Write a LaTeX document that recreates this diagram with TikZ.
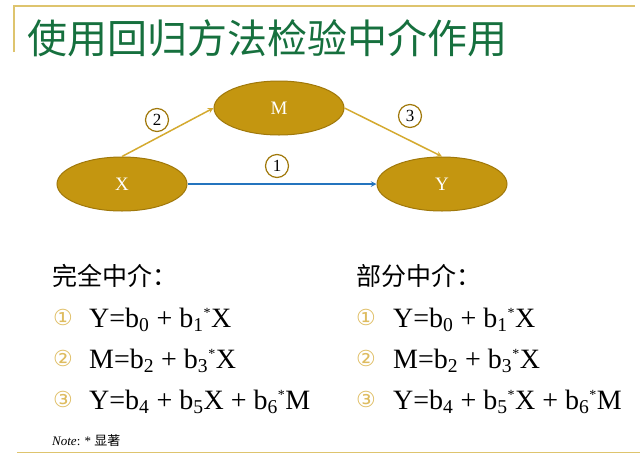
\documentclass[tikz,border=0pt]{standalone}
\usepackage{fontspec}
\setmainfont{Liberation Serif}
\newfontfamily\cjk{Noto Sans CJK SC}
\newfontfamily\symfont{DejaVu Sans}
\usetikzlibrary{shapes.geometric}
\definecolor{titlegreen}{RGB}{22,112,62}
\definecolor{ochre}{RGB}{196,150,16}
\definecolor{ochreline}{RGB}{160,120,10}
\definecolor{arrowgold}{RGB}{212,170,48}
\definecolor{rulegold}{RGB}{222,196,110}
\definecolor{pathblue}{RGB}{36,116,190}
\definecolor{numgold}{RGB}{222,188,96}
\newcommand{\eqsize}{\fontsize{28}{30}\selectfont}
\newcommand{\starsup}{\textsuperscript{\fontsize{14}{14}\selectfont *}}
\begin{document}
\begin{tikzpicture}[
    x=1pt, y=-1pt,
    varnode/.style={ellipse, minimum width=130pt, minimum height=54pt, fill=ochre, draw=ochreline, line width=1pt, text=white, font=\fontsize{19}{20}\selectfont},
    pathnum/.style={circle, minimum size=23pt, inner sep=0pt, fill=white, draw=ochreline, line width=1.2pt, font=\fontsize{17}{18}\selectfont},
    itemnum/.style={anchor=center, text=numgold, font=\symfont\fontsize{22}{24}\selectfont},
    eqline/.style={anchor=base west, inner sep=0pt, font=\eqsize},
    heading/.style={anchor=base west, inner sep=0pt, font=\cjk\fontsize{25}{28}\selectfont}
]
    \useasboundingbox (0,0) rectangle (640,453);

    % frame lines
    \draw[rulegold, line width=2pt] (14,52) -- (14,6) -- (635,6);
    \draw[rulegold, line width=1pt] (17,452) -- (640,452);

    \node[anchor=base west, inner sep=0pt, text=titlegreen, font=\cjk\fontsize{40}{42}\selectfont] at (27,53) (title) {使用回归方法检验中介作用};

    % path diagram
    \node[varnode] at (122,184) (X) {X};
    \node[varnode] at (279,108) (M) {M};
    \node[varnode] at (442,184) (Y) {Y};

    \draw[-stealth, arrowgold, line width=1.5pt] (X.north) -- (M.west);
    \draw[-stealth, arrowgold, line width=1.5pt] (M.east) -- (Y.north);
    \draw[-stealth, pathblue, line width=1.5pt] (X.east) -- (Y.west);

    \node[pathnum] at (157,120) (p2) {2};
    \node[pathnum] at (277,166) (p1) {1};
    \node[pathnum] at (410,116) (p3) {3};

    % full mediation
    \node[heading] at (52,285) (full) {完全中介：};
    \node[itemnum] at (63,317) (f1) {①};
    \node[eqline] at (89,327) (fe1) {Y=b\textsubscript{0} + b\textsubscript{1}\starsup X};
    \node[itemnum] at (63,358) (f2) {②};
    \node[eqline] at (89,368) (fe2) {M=b\textsubscript{2} + b\textsubscript{3}\starsup X};
    \node[itemnum] at (63,399) (f3) {③};
    \node[eqline] at (89,409) (fe3) {Y=b\textsubscript{4} + b\textsubscript{5}X + b\textsubscript{6}\starsup M};

    % partial mediation
    \node[heading] at (356,285) (part) {部分中介：};
    \node[itemnum] at (366,317) (q1) {①};
    \node[eqline] at (393,327) (qe1) {Y=b\textsubscript{0} + b\textsubscript{1}\starsup X};
    \node[itemnum] at (366,358) (q2) {②};
    \node[eqline] at (393,368) (qe2) {M=b\textsubscript{2} + b\textsubscript{3}\starsup X};
    \node[itemnum] at (366,399) (q3) {③};
    \node[eqline] at (393,409) (qe3) {Y=b\textsubscript{4} + b\textsubscript{5}\starsup X + b\textsubscript{6}\starsup M};

    \node[anchor=base west, inner sep=0pt, font=\fontsize{13}{14}\selectfont] at (52,445) (note) {\textit{Note}: * {\cjk 显著}};
\end{tikzpicture}
\end{document}
